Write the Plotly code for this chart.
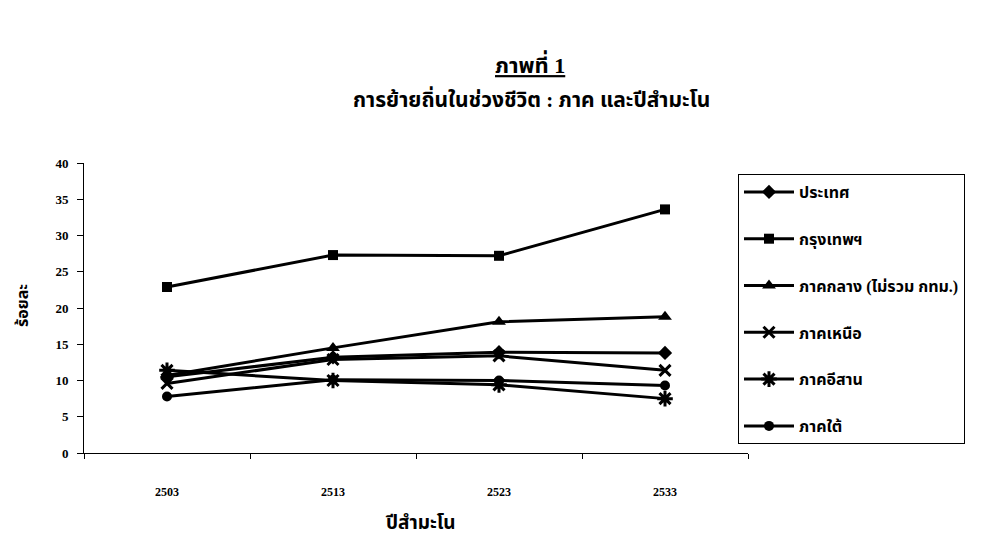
import plotly.graph_objects as go

years = ["2503", "2513", "2523", "2533"]
series_names = ["ประเทศ", "กรุงเทพฯ", "ภาคกลาง (ไม่รวม กทม.)", "ภาคเหนือ", "ภาคอีสาน", "ภาคใต้"]
v_country = [10.5, 13.2, 13.9, 13.8]
v_bangkok = [22.9, 27.3, 27.2, 33.6]
v_central = [10.7, 14.5, 18.1, 18.8]
v_north = [9.6, 12.9, 13.4, 11.4]
v_northeast = [11.4, 10.0, 9.4, 7.5]
v_south = [7.8, 10.1, 10.0, 9.3]
y_ticks = [0, 5, 10, 15, 20, 25, 30, 35, 40]

values = [v_country, v_bangkok, v_central, v_north, v_northeast, v_south]
symbols = ["diamond", "square", "triangle-up", "x-thin", "asterisk", "circle"]
sizes = [11, 10, 12, 11, 13, 10]

serif = "Liberation Serif, Noto Sans Thai, serif"

# plot area in reference pixel coordinates
PL, PR, PT, PB = 84, 748, 163, 453
OFF = 8  # page body margin
W, H = 986 - OFF, 542 - OFF


def px(x):
    return (x - PL) / (PR - PL)


def py(y):
    return (PB - y) / (PB - PT)


def label(text, x, y, size, angle=0):
    return dict(text=text, x=px(x), y=py(y), xref="paper", yref="paper",
                xanchor="center", yanchor="middle", showarrow=False,
                textangle=angle, font=dict(size=size))


fig = go.Figure()
for i, (name, vals) in enumerate(zip(series_names, values)):
    lw = 3 if symbols[i] in ("x-thin", "asterisk") else 0
    fig.add_trace(go.Scatter(
        x=years, y=vals, name=name, mode="lines+markers",
        legendgroup=f"g{i}",
        line=dict(color="black", width=3),
        marker=dict(symbol=symbols[i], size=sizes[i], color="black",
                    line=dict(color="black", width=lw)),
    ))

fig.update_layout(
    width=W, height=H,
    paper_bgcolor="white", plot_bgcolor="white",
    margin=dict(l=PL - OFF, r=W - (PR - OFF), t=PT - OFF, b=H - (PB - OFF)),
    font=dict(family=serif, color="black", size=12),
    showlegend=True,
    legend=dict(
        x=px(738), xanchor="left",
        y=py(174), yanchor="top",
        bordercolor="black", borderwidth=1,
        font=dict(size=16, family=serif, weight="bold"),
        tracegroupgap=23, itemwidth=50,
        bgcolor="white", maxheight=500,
    ),
    annotations=[
        label("<b><u>ภาพที่ 1</u></b>", 530, 64, 22),
        label("<b>การย้ายถิ่นในช่วงชีวิต : ภาค และปีสำมะโน</b>", 531, 99, 21),
        label("<b>ปีสำมะโน</b>", 420, 522, 19),
        label("<b>ร้อยละ</b>", 22, 306, 16, angle=-90),
    ],
)

fig.update_xaxes(
    type="category", range=[-0.5, 3.5],
    showline=True, linecolor="black", linewidth=1,
    ticks="outside", ticklen=5, tickcolor="black", tickson="boundaries",
    showgrid=False, zeroline=False,
    tickfont=dict(size=12, family=serif, weight="bold"),
    ticklabelstandoff=28,
)
fig.update_yaxes(
    range=[0, 40], tickvals=y_ticks,
    showline=True, linecolor="black", linewidth=1,
    ticks="outside", ticklen=6, tickcolor="black",
    showgrid=False, zeroline=False,
    tickfont=dict(size=13, family=serif, weight="bold"),
    ticklabelstandoff=6,
)

fig.write_html("out.html")
